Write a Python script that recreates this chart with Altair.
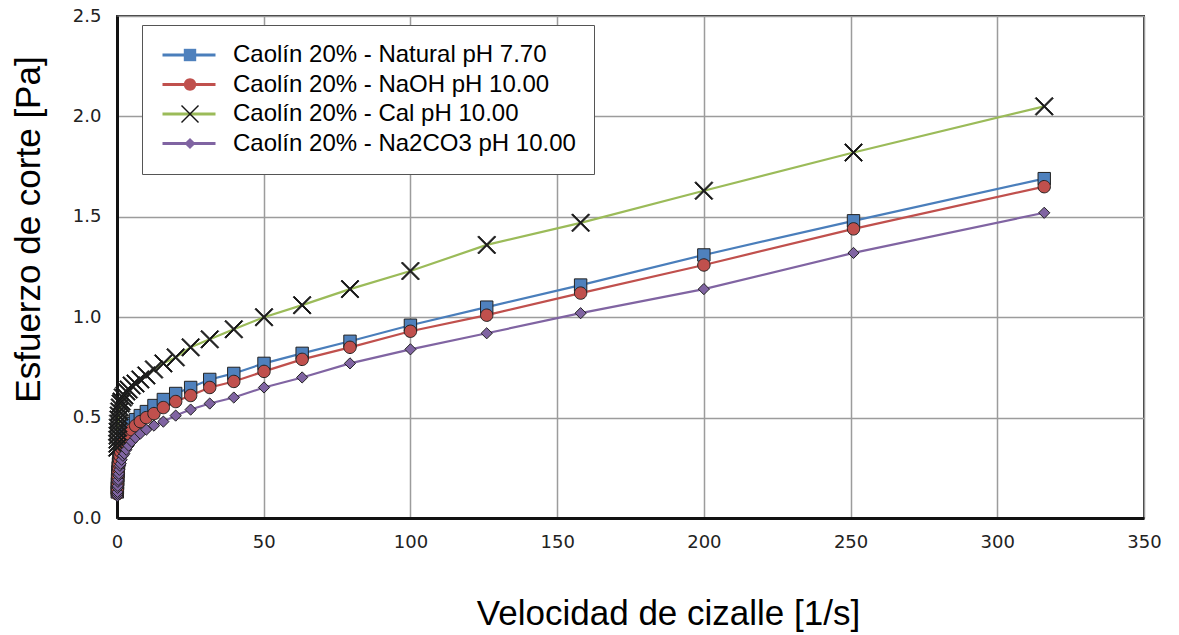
import altair as alt
import pandas as pd

# ---------------- data ----------------
shear_rate = [0.1, 0.126, 0.158, 0.2, 0.251, 0.316, 0.398, 0.501, 0.631, 0.794,
              1.0, 1.26, 1.58, 2.0, 2.51, 3.16, 3.98, 5.01, 6.31, 7.94,
              10.0, 12.6, 15.8, 20.0, 25.1, 31.6, 39.8, 50.1, 63.1, 79.4,
              100.0, 126.0, 158.0, 200.0, 251.0, 316.0]

natural = [0.13, 0.15, 0.17, 0.19, 0.21, 0.23, 0.25, 0.27, 0.29, 0.31,
           0.33, 0.35, 0.37, 0.39, 0.41, 0.43, 0.45, 0.47, 0.49, 0.51,
           0.53, 0.56, 0.59, 0.62, 0.65, 0.69, 0.72, 0.77, 0.82, 0.88,
           0.96, 1.05, 1.16, 1.31, 1.48, 1.69]

naoh = [0.12, 0.13, 0.15, 0.17, 0.19, 0.21, 0.23, 0.25, 0.27, 0.29,
        0.31, 0.33, 0.35, 0.37, 0.39, 0.40, 0.42, 0.44, 0.46, 0.48,
        0.50, 0.52, 0.55, 0.58, 0.61, 0.65, 0.68, 0.73, 0.79, 0.85,
        0.93, 1.01, 1.12, 1.26, 1.44, 1.65]

cal = [0.35, 0.37, 0.39, 0.41, 0.43, 0.45, 0.47, 0.49, 0.51, 0.53,
       0.55, 0.57, 0.58, 0.60, 0.61, 0.63, 0.64, 0.66, 0.67, 0.69,
       0.71, 0.74, 0.77, 0.80, 0.85, 0.89, 0.94, 1.00, 1.06, 1.14,
       1.23, 1.36, 1.47, 1.63, 1.82, 2.05]

na2co3 = [0.11, 0.12, 0.13, 0.15, 0.16, 0.18, 0.19, 0.21, 0.22, 0.24,
          0.26, 0.27, 0.29, 0.31, 0.32, 0.34, 0.36, 0.38, 0.40, 0.42,
          0.44, 0.46, 0.48, 0.51, 0.54, 0.57, 0.60, 0.65, 0.70, 0.77,
          0.84, 0.92, 1.02, 1.14, 1.32, 1.52]

series_names = ["Caolín 20% - Natural pH 7.70",
                "Caolín 20% - NaOH pH 10.00",
                "Caolín 20% - Cal pH 10.00",
                "Caolín 20% - Na2CO3 pH 10.00"]
line_colors = ["#4A7EBB", "#C0504D", "#9BBB59", "#8064A2"]
marker_fills = ["#4F81BD", "#C0504D", "#151515", "#8064A2"]

x_ticks = [0, 50, 100, 150, 200, 250, 300, 350]
y_ticks = [0.0, 0.5, 1.0, 1.5, 2.0, 2.5]

# ---------------- build table ----------------
rows = []
for name, vals in zip(series_names, [natural, naoh, cal, na2co3]):
    for xv, yv in zip(shear_rate, vals):
        rows.append({"serie": name, "x": xv, "y": yv})
df = pd.DataFrame(rows)

# marker shapes (unit box -1..1)
SQ = "M-0.62,-0.62H0.62V0.62H-0.62Z"
CI = "M-0.62,0A0.62,0.62,0,1,1,0.62,0A0.62,0.62,0,1,1,-0.62,0Z"
XX = ("M-0.8,-0.9L0.9,0.8L0.8,0.9L-0.9,-0.8Z"
      "M0.9,-0.8L-0.8,0.9L-0.9,0.8L0.8,-0.9Z")
DI = "M0,-0.56L0.56,0L0,0.56L-0.56,0Z"
LINE_SYM = "M-2.65,0H2.65"

FONT_TXT = "Liberation Sans"
FONT_TICK = "DejaVu Sans"

x_enc = alt.X("x:Q",
              scale=alt.Scale(domain=[0, 350], nice=False, zero=False),
              axis=alt.Axis(values=x_ticks, title="Velocidad de cizalle [1/s]",
                            format="d", grid=True, ticks=False,
                            labelFont=FONT_TICK, labelFontSize=18, labelColor="#222",
                            labelPadding=15, labelFlush=False,
                            domainColor="#111", domainWidth=3,
                            gridColor="#9c9c9c", gridWidth=1.5,
                            titleFont=FONT_TXT, titleFontSize=35, titleFontWeight="normal",
                            titleColor="#000", titleX=551, titleY=106,
                            titleBaseline="alphabetic", titleAnchor="start",
                            titleAlign="center"))
y_enc = alt.Y("y:Q",
              scale=alt.Scale(domain=[0, 2.5], nice=False, zero=False),
              axis=alt.Axis(values=y_ticks, title="Esfuerzo de corte [Pa]",
                            format=".1f", grid=True, ticks=False,
                            labelFont=FONT_TICK, labelFontSize=18, labelColor="#222",
                            labelPadding=16, labelFlush=False,
                            domainColor="#111", domainWidth=3,
                            gridColor="#9c9c9c", gridWidth=1.5,
                            titleFont=FONT_TXT, titleFontSize=35, titleFontWeight="normal",
                            titleColor="#000", titleX=-78, titleY=213, titleAngle=270,
                            titleBaseline="alphabetic", titleAlign="center"))

line_legend = alt.Legend(orient="none", legendX=25, legendY=9, title=None,
                         padding=18, fillColor="white", strokeColor="#555",
                         symbolType=LINE_SYM, symbolSize=400, symbolStrokeWidth=3,
                         symbolOffset=17, labelOffset=32, rowPadding=5.5,
                         labelFont=FONT_TXT, labelFontSize=24, labelColor="#000",
                         labelLimit=600, zindex=1)

pt_legend = alt.Legend(orient="none", legendX=25, legendY=9, title=None,
                       padding=18, symbolSize=400, symbolStrokeWidth=1,
                       symbolStrokeColor="#222",
                       symbolOffset=18, labelOffset=32, rowPadding=5.5,
                       labelFont=FONT_TXT, labelFontSize=24, labelExpr="''",
                       labelLimit=600, zindex=2)

lines = alt.Chart(df).mark_line(strokeWidth=2.2).encode(
    x=x_enc, y=y_enc,
    color=alt.Color("serie:N", scale=alt.Scale(domain=series_names, range=line_colors),
                    legend=line_legend),
)

points = alt.Chart(df).mark_point(filled=True, size=400, stroke="#222",
                                  strokeWidth=1, opacity=1).encode(
    x=x_enc, y=y_enc,
    fill=alt.Fill("serie:N", scale=alt.Scale(domain=series_names, range=marker_fills),
                  legend=pt_legend),
    shape=alt.Shape("serie:N", scale=alt.Scale(domain=series_names, range=[SQ, CI, XX, DI]),
                    legend=pt_legend),
)

chart = alt.layer(lines, points).resolve_legend(color="independent").properties(
    width=1027, height=502,
    autosize=alt.AutoSizeParams(type="none"),
    padding={"left": 117, "top": 16, "right": 35, "bottom": 117},
    background="white",
).configure_view(stroke="#333", strokeWidth=2)

chart.save("out.html", embed_options={"renderer": "svg", "actions": False})
